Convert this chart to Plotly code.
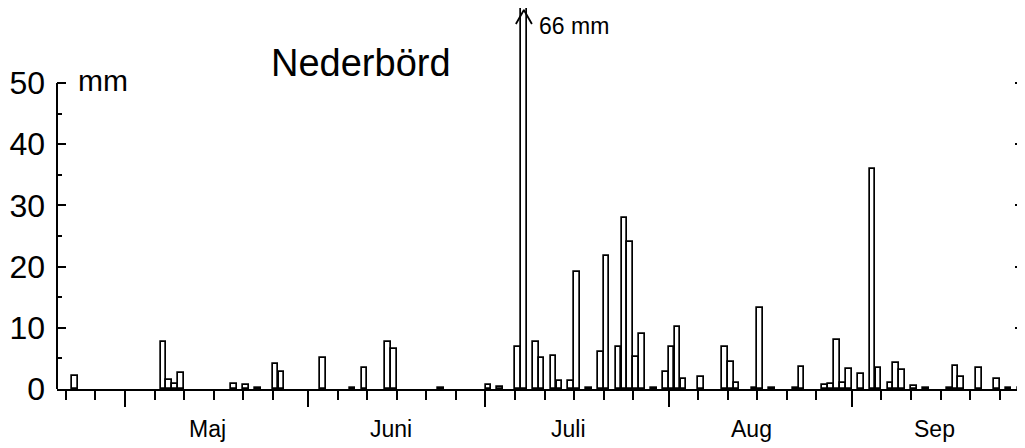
import pandas as pd
import plotly.graph_objects as go

# ---------------- data (daily precipitation, mm) ----------------
rain_dates = [
    "2023-04-22", "2023-05-07", "2023-05-08", "2023-05-09", "2023-05-10",
    "2023-05-19", "2023-05-21", "2023-05-23", "2023-05-26", "2023-05-27",
    "2023-06-03", "2023-06-08", "2023-06-10", "2023-06-14", "2023-06-15",
    "2023-06-23", "2023-07-01", "2023-07-03", "2023-07-06", "2023-07-07",
    "2023-07-09", "2023-07-10", "2023-07-12", "2023-07-13", "2023-07-15",
    "2023-07-16", "2023-07-18", "2023-07-20", "2023-07-21", "2023-07-23",
    "2023-07-24", "2023-07-25", "2023-07-26", "2023-07-27", "2023-07-29",
    "2023-07-31", "2023-08-01", "2023-08-02", "2023-08-03", "2023-08-06",
    "2023-08-10", "2023-08-11", "2023-08-12", "2023-08-15", "2023-08-16",
    "2023-08-18", "2023-08-22", "2023-08-23", "2023-08-27", "2023-08-28",
    "2023-08-29", "2023-08-30", "2023-08-31", "2023-09-02", "2023-09-04",
    "2023-09-05", "2023-09-07", "2023-09-08", "2023-09-09", "2023-09-11",
    "2023-09-13", "2023-09-17", "2023-09-18", "2023-09-19", "2023-09-22",
    "2023-09-25", "2023-09-27", "2023-09-29",
]
precip_mm = [
    2.2, 7.7, 1.4, 0.8, 2.6,
    0.8, 0.7, 0.2, 4.1, 2.7,
    5.1, 0.2, 3.4, 7.7, 6.5,
    0.2, 0.7, 0.4, 6.8, 66.0,
    7.7, 5.1, 5.4, 1.3, 1.3,
    19.2, 0.2, 6.0, 21.8, 6.8,
    28.0, 24.1, 5.3, 9.0, 0.2,
    2.7, 6.8, 10.2, 1.6, 2.0,
    6.8, 4.4, 1.0, 0.2, 13.3,
    0.2, 0.2, 3.6, 0.65, 0.8,
    8.0, 0.9, 3.3, 2.5, 35.9,
    3.4, 1.0, 4.3, 3.1, 0.55,
    0.2, 0.2, 3.8, 1.9, 3.4,
    1.6, 0.2, 0.2,
]
month_names = ["Maj", "Juni", "Juli", "Aug", "Sep"]
month_starts = ["2023-05-01", "2023-06-01", "2023-07-01", "2023-08-01", "2023-09-01"]
y_tick_values = [0, 10, 20, 30, 40, 50]
y_minor_values = [5, 15, 25, 35, 45]
peak_label = "66 mm"
title_text = "Nederbörd"
unit_text = "mm"

# ---------------- helpers: day offsets relative to 1 May ----------------
origin = pd.Timestamp("2023-05-01")
def day_offset(d):
    return (pd.Timestamp(d) - origin).days

bar_x = [day_offset(d) + 0.5 for d in rain_dates]
major_ticks = [day_offset(d) for d in month_starts]
minor_ticks = [day_offset("2023-04-21"), day_offset("2023-04-26")]
for s in major_ticks:
    minor_ticks += [s + k for k in (5, 10, 15, 20, 25)]

# the page body has an 8px margin; size the figure so it fills the window
OFF = 8
W, H = 1025 - OFF, 448 - OFF
ML, MR, MT = 57 - OFF, 1, 8 - OFF
MB = H - (389 - OFF)
PW, PH = W - ML - MR, H - MT - MB

px_day, px_mm = 5.91, 6.12
x_range = [-11.5, -11.5 + PW / px_day]
y_range = [0, PH / px_mm]

def px_x(p):  # window pixel -> paper x
    return (p - OFF - ML) / PW
def px_y(p):  # window pixel -> paper y
    return (H - MB - (p - OFF)) / PH

sans = "Liberation Sans, Arial, sans-serif"

fig = go.Figure()
fig.add_trace(go.Bar(
    x=bar_x, y=precip_mm, width=0.95,
    marker=dict(color="white", line=dict(color="black", width=1.7)),
    hoverinfo="x+y", showlegend=False,
))
# open arrow head marking the clipped peak bar (derived from the bar position)
peak_i = precip_mm.index(max(precip_mm))
tip_y = y_range[1] - 2 / px_mm
arm_dx, arm_dy = 8 / px_day, 14 / px_mm
fig.add_trace(go.Scatter(
    x=[bar_x[peak_i] - arm_dx, bar_x[peak_i], bar_x[peak_i] + arm_dx],
    y=[tip_y - arm_dy, tip_y, tip_y - arm_dy],
    mode="lines", line=dict(color="black", width=1.8),
    cliponaxis=False, hoverinfo="skip", showlegend=False,
))

fig.update_layout(
    width=W, height=H,
    margin=dict(l=ML, r=MR, t=MT, b=MB, pad=0),
    paper_bgcolor="white", plot_bgcolor="white",
    bargap=0,
    xaxis=dict(
        range=x_range, showgrid=False, zeroline=False, automargin=False,
        showline=True, linecolor="black", linewidth=2,
        tickmode="array", tickvals=major_ticks, ticktext=[""] * len(major_ticks),
        ticks="outside", ticklen=16, tickwidth=2, tickcolor="black",
        minor=dict(tickmode="array", tickvals=minor_ticks, ticks="outside",
                   ticklen=9, tickwidth=2, tickcolor="black", showgrid=False),
    ),
    yaxis=dict(
        range=y_range, showgrid=False, zeroline=False, showline=False,
        automargin=False, mirror="ticks",
        tickmode="array", tickvals=y_tick_values,
        ticktext=[str(v) for v in y_tick_values],
        ticks="inside", ticklen=9, tickwidth=2, tickcolor="black",
        tickfont=dict(family=sans, size=32, color="black"),
        ticklabelstandoff=11,
        minor=dict(tickmode="array", tickvals=y_minor_values, ticks="inside",
                   ticklen=5, tickwidth=2, tickcolor="black", showgrid=False),
    ),
    shapes=[dict(type="line", xref="paper", yref="y", x0=0, x1=0,
                 y0=0, y1=y_tick_values[-1],
                 line=dict(color="black", width=2))],
)

annotations = [
    dict(text=title_text, xref="paper", yref="paper", x=px_x(361), y=px_y(63),
         xanchor="center", yanchor="middle", showarrow=False,
         font=dict(family=sans, size=38, color="black")),
    dict(text=unit_text, xref="paper", yref="paper", x=px_x(76), y=px_y(81),
         xanchor="left", yanchor="middle", showarrow=False,
         font=dict(family=sans, size=30, color="black")),
    dict(text=peak_label, xref="paper", yref="paper", x=px_x(537), y=px_y(26),
         xanchor="left", yanchor="middle", showarrow=False,
         font=dict(family=sans, size=23, color="black")),
]
for name, s in zip(month_names, major_ticks):
    annotations.append(dict(
        text=name, xref="x", yref="paper", x=s + 14, y=px_y(429),
        xanchor="center", yanchor="middle", showarrow=False,
        font=dict(family=sans, size=23, color="black"),
    ))
fig.update_layout(annotations=annotations)

fig.write_html("out.html")
